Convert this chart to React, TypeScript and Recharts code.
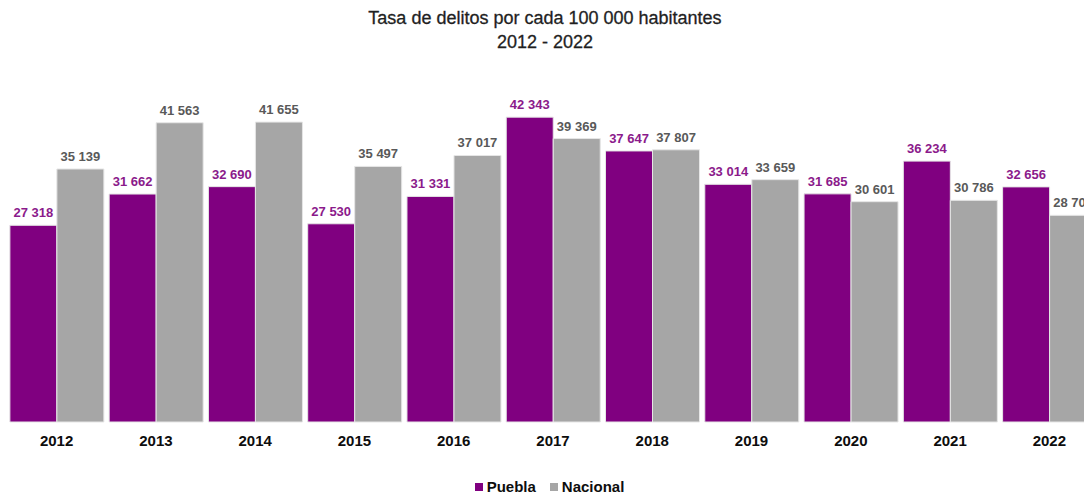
import { Bar, BarChart, LabelList, Legend, XAxis, YAxis } from "recharts";

const years = ["2012", "2013", "2014", "2015", "2016", "2017", "2018", "2019", "2020", "2021", "2022"];
const puebla = [27318, 31662, 32690, 27530, 31331, 42343, 37647, 33014, 31685, 36234, 32656];
const nacional = [35139, 41563, 41655, 35497, 37017, 39369, 37807, 33659, 30601, 30786, 28704];

const data = years.map((year, i) => ({ year, puebla: puebla[i], nacional: nacional[i] }));

const PURPLE = "#800080";
const GRAY = "#a6a6a6";
const FONT = "'Liberation Sans', Arial, sans-serif";

const fmt = (v: number) => String(v).replace(/\B(?=(\d{3})+(?!\d))/g, " ");

function makeLabel(color: string) {
  return (props: any) => {
    const { x, y, width, value } = props;
    return (
      <text
        x={Number(x) + Number(width) / 2}
        y={Number(y) - 8}
        textAnchor="middle"
        fill={color}
        fontSize={13}
        fontWeight={700}
        fontFamily={FONT}
      >
        {fmt(Number(value))}
      </text>
    );
  };
}

function LegendContent() {
  const items = [
    { label: "Puebla", color: PURPLE },
    { label: "Nacional", color: GRAY },
  ];
  return (
    <div style={{ display: "flex", justifyContent: "center", gap: 14, fontFamily: FONT }}>
      {items.map((it) => (
        <div key={it.label} style={{ display: "flex", alignItems: "center" }}>
          <span style={{ width: 8, height: 8, background: it.color, marginRight: 4, display: "inline-block" }} />
          <span style={{ fontSize: 15, fontWeight: 700, color: "#0d0d0d" }}>{it.label}</span>
        </div>
      ))}
    </div>
  );
}

export default function App() {
  return (
    <div style={{ position: "relative", width: 1084, height: 500, overflow: "hidden", background: "#fff" }}>
      <style>{`body{margin:0}`}</style>
      <div
        style={{
          position: "absolute",
          top: 6,
          left: 0,
          width: 1090,
          textAlign: "center",
          fontFamily: FONT,
          fontSize: 18,
          lineHeight: "24px",
          color: "#1f1f1f",
          WebkitTextStroke: "0.3px #1f1f1f",
          zIndex: 1,
        }}
      >
        Tasa de delitos por cada 100 000 habitantes
        <br />
        2012 - 2022
      </div>
      <BarChart
        width={1110}
        height={500}
        data={data}
        margin={{ top: 98, right: 11, bottom: 0, left: 7 }}
        barCategoryGap="2.9%"
        barGap={0}
      >
        <XAxis
          dataKey="year"
          axisLine={false}
          tickLine={false}
          tickSize={0}
          tickMargin={13}
          height={56}
          tick={{ fill: "#0d0d0d", fontSize: 15, fontWeight: 700, fontFamily: FONT }}
        />
        <YAxis hide domain={[0, 45000]} />
        <Legend
          verticalAlign="bottom"
          height={22}
          content={<LegendContent />}
          wrapperStyle={{ left: 0, width: 1099, height: 22 }}
        />
        <Bar dataKey="puebla" name="Puebla" fill={PURPLE} stroke="#e6e6e6" strokeWidth={1} isAnimationActive={false}>
          <LabelList dataKey="puebla" content={makeLabel("#8b1a8b")} />
        </Bar>
        <Bar dataKey="nacional" name="Nacional" fill={GRAY} stroke="#e6e6e6" strokeWidth={1} isAnimationActive={false}>
          <LabelList dataKey="nacional" content={makeLabel("#595959")} />
        </Bar>
      </BarChart>
    </div>
  );
}
